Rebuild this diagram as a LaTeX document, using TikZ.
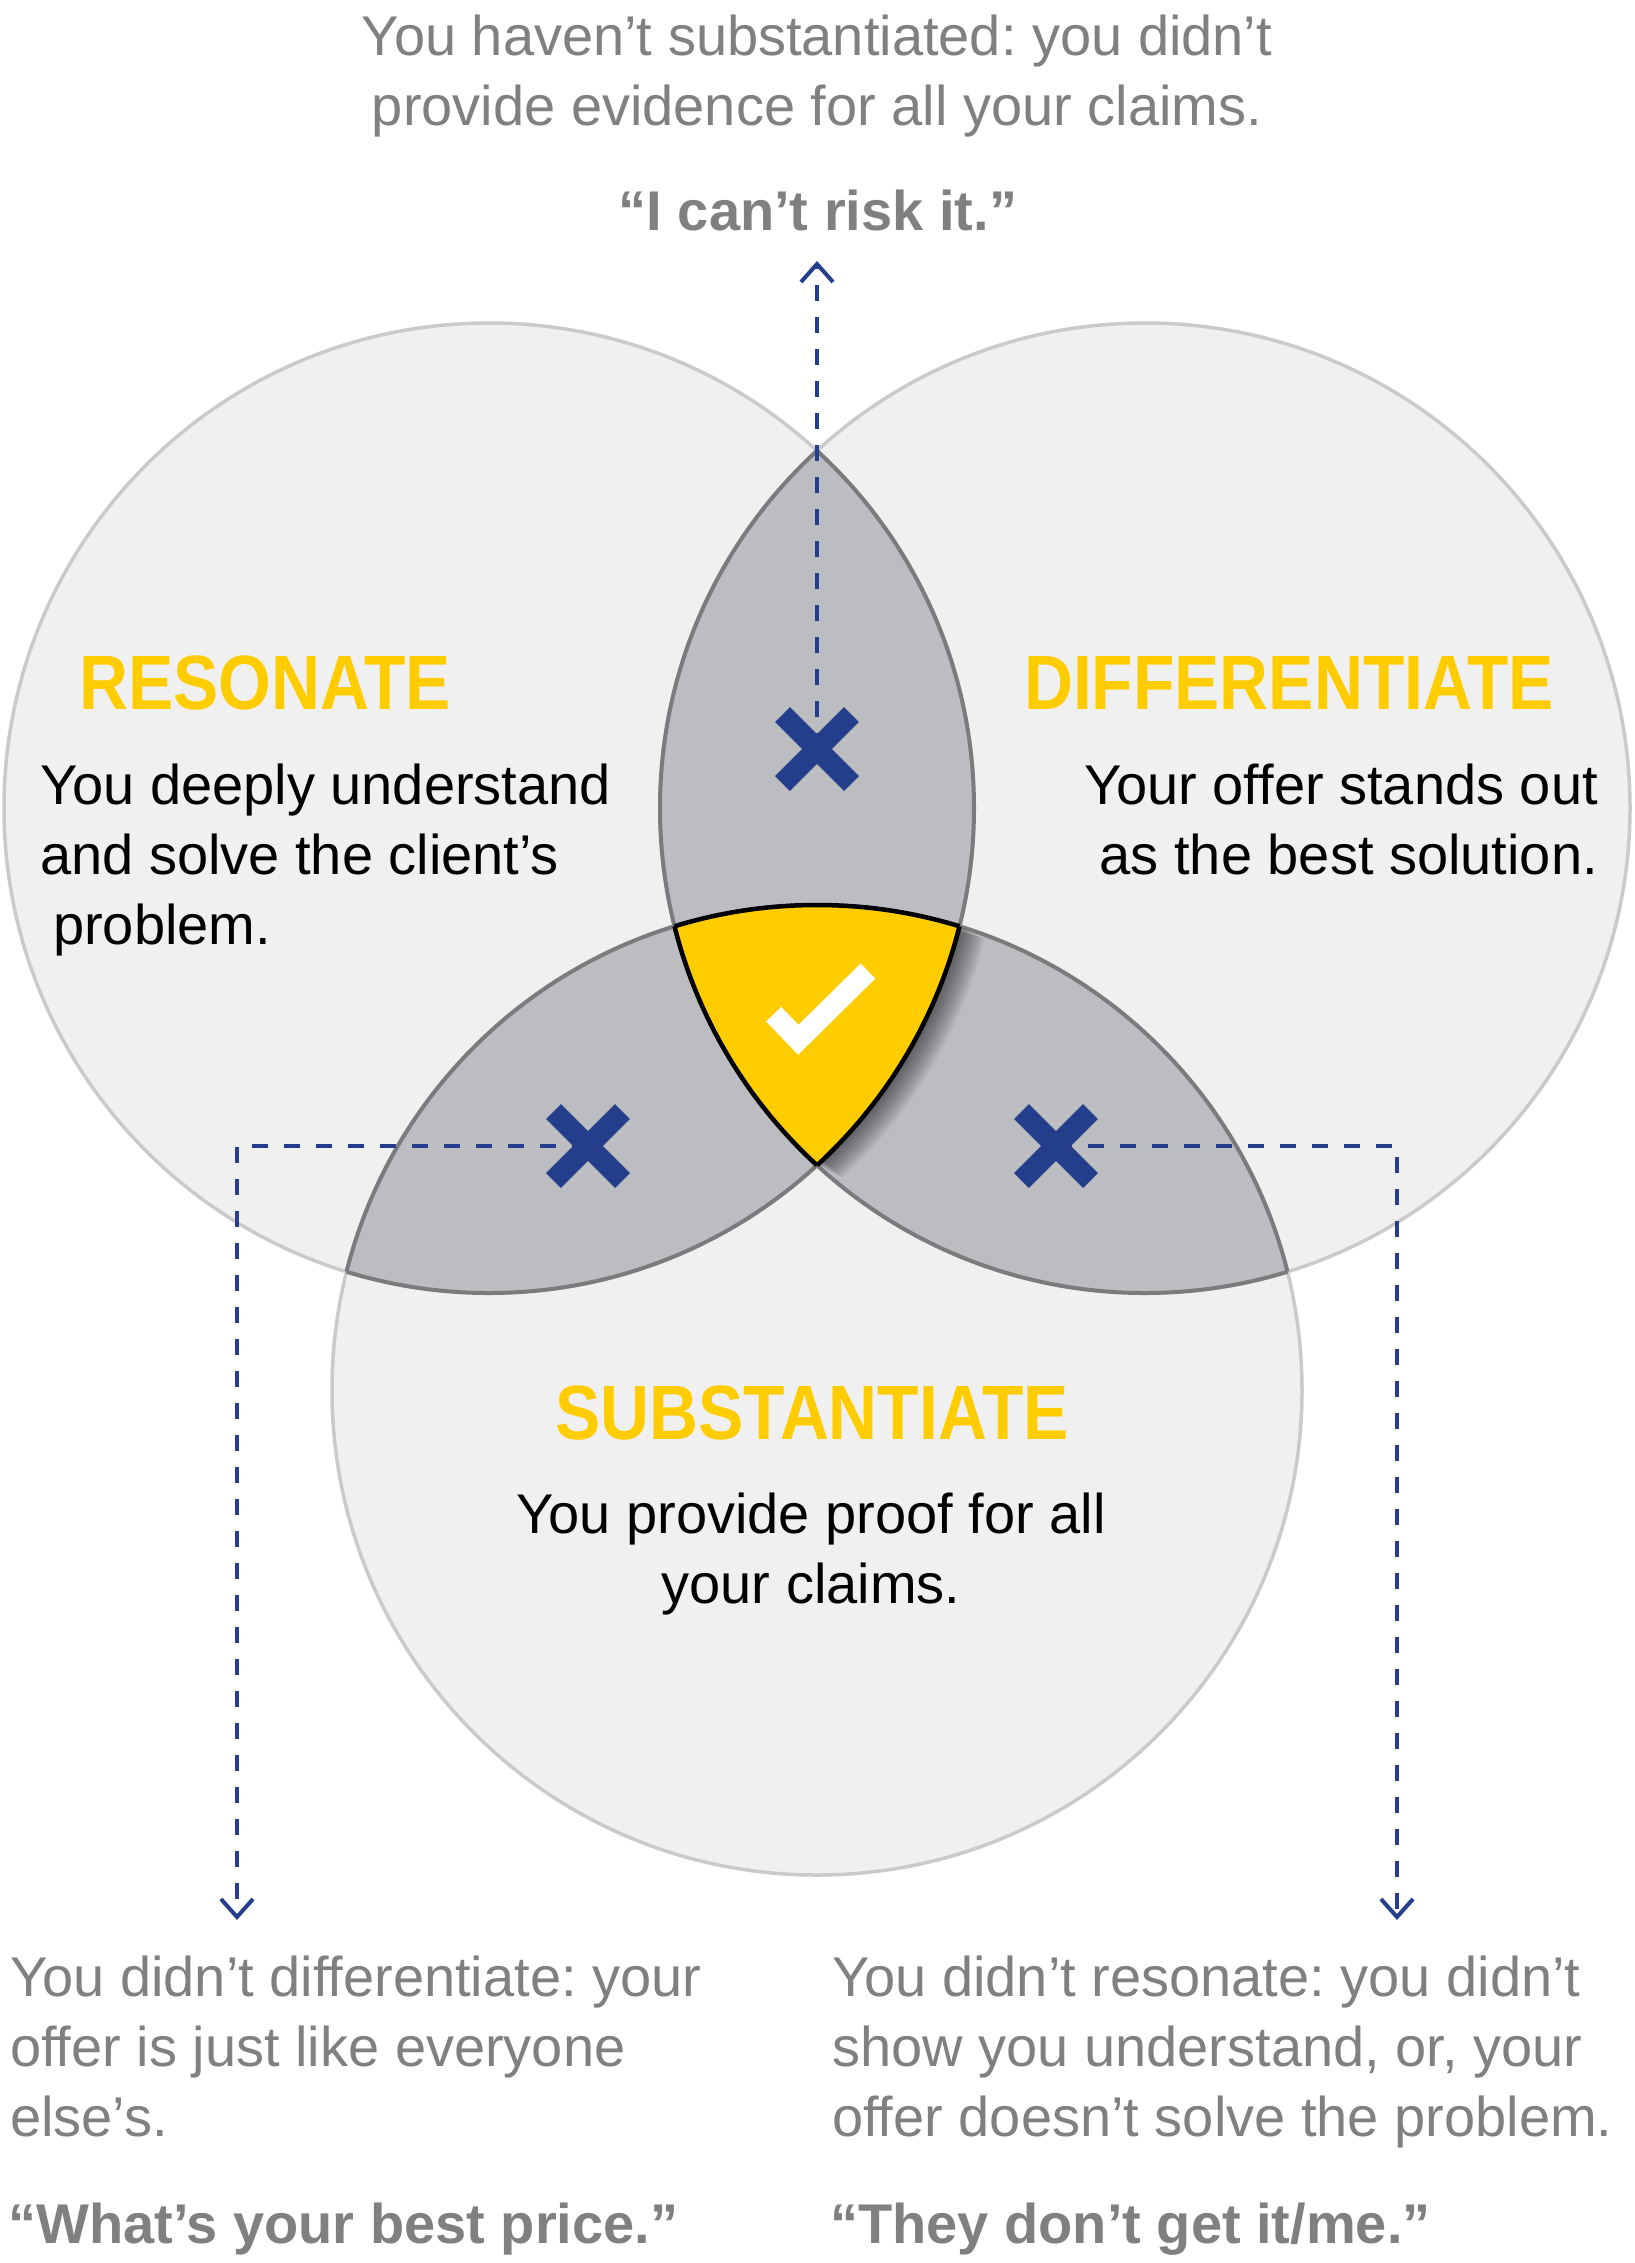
\documentclass[tikz,border=0pt]{standalone}
\usepackage{fontspec}
\setmainfont{Liberation Sans}
\newfontfamily\titlefont[FakeStretch=0.88]{Liberation Sans}
\usetikzlibrary{arrows.meta}
\pgfdeclarelayer{venn}
\pgfdeclarelayer{links}
\pgfsetlayers{venn,links,main}
\definecolor{circfill}{HTML}{F0F0F0}
\definecolor{circline}{HTML}{CACACA}
\definecolor{lensfill}{HTML}{BCBDC1}
\definecolor{lensline}{HTML}{7B7B7D}
\definecolor{gold}{HTML}{FFCC00}
\definecolor{navy}{HTML}{243E8C}
\definecolor{greytext}{HTML}{808080}
\frenchspacing
\begin{document}
\begin{tikzpicture}[x=1pt,y=-1pt,
  xmark/.style={minimum size=90pt,inner sep=0pt,outer sep=0pt,
    path picture={\draw[navy,line width=21pt]
      ([shift={(-34.5pt,-34.5pt)}]path picture bounding box.center) -- ([shift={(34.5pt,34.5pt)}]path picture bounding box.center)
      ([shift={(-34.5pt,34.5pt)}]path picture bounding box.center) -- ([shift={(34.5pt,-34.5pt)}]path picture bounding box.center);}},
  link/.style={navy,line width=4pt,dash pattern=on 16pt off 16pt,
    -{Straight Barb[length=18pt,width=32pt,line width=4pt]}},
  greybody/.style={text=greytext,font=\fontsize{56}{70}\selectfont,inner sep=0pt},
  quote/.style={text=greytext,font=\fontsize{56}{70}\selectfont\bfseries,inner sep=0pt},
  body/.style={text=black,font=\fontsize{56}{70}\selectfont,inner sep=0pt},
  title/.style={text=gold,font=\titlefont\bfseries\fontsize{77}{80}\selectfont,inner sep=0pt},
  lensedge/.style={lensline,line width=4pt},
  yelledge/.style={black,line width=4.5pt}
]
\useasboundingbox (0,0) rectangle (1634,2263);
\def\R{485pt}
\begin{pgfonlayer}{venn}
\fill[white] (0,0) rectangle (1634,2263);
\coordinate (cL) at (489,808);
\coordinate (cR) at (1145,808);
\coordinate (cB) at (817,1390);
\foreach \c in {cL,cR,cB} \fill[circfill] (\c) circle[radius=\R];
\foreach \c in {cL,cR,cB} \draw[circline,line width=3.5pt] (\c) circle[radius=\R];
\foreach \a/\b in {cL/cR,cL/cB,cR/cB}{
  \begin{scope}\clip (\a) circle[radius=\R]; \fill[lensfill] (\b) circle[radius=\R];\end{scope}}
\foreach \a/\b in {cL/cR,cL/cB,cR/cB}{
  \begin{scope}\clip (\a) circle[radius=\R]; \draw[lensedge] (\b) circle[radius=\R];\end{scope}
  \begin{scope}\clip (\b) circle[radius=\R]; \draw[lensedge] (\a) circle[radius=\R];\end{scope}}
% soft shadow of the centre region
\foreach \i in {1,...,14}{
  \begin{scope}[shift={(1.8*\i,0.9*\i)}]
    \clip (489,808) circle[radius=\R];
    \clip (1145,808) circle[radius=\R];
    \fill[black,opacity=0.045] (817,1390) circle[radius=\R];
  \end{scope}}
% centre region
\begin{scope}\clip (cL) circle[radius=\R]; \clip (cR) circle[radius=\R]; \fill[gold] (cB) circle[radius=\R];\end{scope}
\begin{scope}\clip (cL) circle[radius=\R]; \clip (cR) circle[radius=\R]; \draw[yelledge] (cB) circle[radius=\R];\end{scope}
\begin{scope}\clip (cL) circle[radius=\R]; \clip (cB) circle[radius=\R]; \draw[yelledge] (cR) circle[radius=\R];\end{scope}
\begin{scope}\clip (cR) circle[radius=\R]; \clip (cB) circle[radius=\R]; \draw[yelledge] (cL) circle[radius=\R];\end{scope}
\draw[white,line width=21pt] (773.7,1014.2) -- (798.3,1039.8) -- (868,971);
\end{pgfonlayer}

% crosses
\node[xmark] (xT) at (817,749) {};
\node[xmark] (xL) at (588,1146) {};
\node[xmark] (xR) at (1056,1146) {};
\coordinate (aT) at (817,261);
\coordinate (aL) at (237,1920);
\coordinate (aR) at (1397,1920);
\begin{pgfonlayer}{links}
\draw[link] (xT.center) -- (aT);
\draw[link] (xL.center) -| (aL);
\draw[link] (xR.center) -| (aR);
\end{pgfonlayer}

% texts (base anchor of a multi-line node = baseline of its last line)
\node[greybody,align=center,anchor=base] (topnote) at (817,125) {You haven’t substantiated: you didn’t\\provide evidence for all your claims.};
\node[quote,anchor=base] (topquote) at (818,230) {“I can’t risk it.”};
\node[title,anchor=base west] (tRes) at (79,709) {RESONATE};
\node[title,anchor=base west] (tDif) at (1024,709) {DIFFERENTIATE};
\node[title,anchor=base] (tSub) at (812,1439) {SUBSTANTIATE};
\node[body,align=left,anchor=base west] (bRes) at (40,944) {You deeply understand\\and solve the client’s\\\hspace*{13pt}problem.};
\node[body,align=right,anchor=base east] (bDif) at (1598,874) {Your offer stands out\\as the best solution.};
\node[body,align=center,anchor=base] (bSub) at (811,1603) {You provide proof for all\\your claims.};
\node[greybody,align=left,anchor=base west] (noteL) at (10,2136) {You didn’t differentiate: your\\offer is just like everyone\\else’s.};
\node[quote,anchor=base west] (quoteL) at (8,2243) {“What’s your best price.”};
\node[greybody,align=left,anchor=base west] (noteR) at (832,2136) {You didn’t resonate: you didn’t\\show you understand, or, your\\offer doesn’t solve the problem.};
\node[quote,anchor=base west] (quoteR) at (830,2243) {“They don’t get it/me.”};
\end{tikzpicture}
\end{document}
